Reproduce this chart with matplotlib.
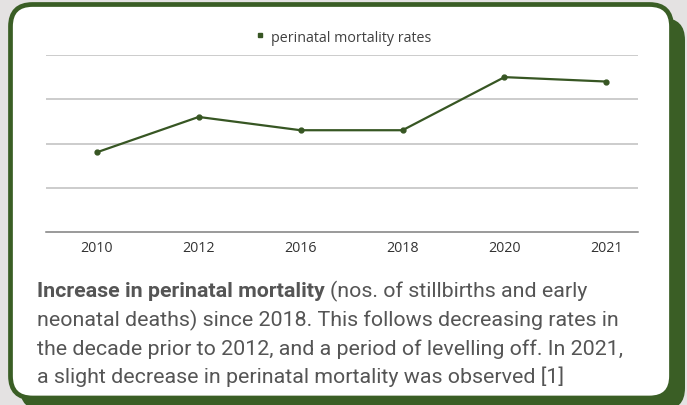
import matplotlib.pyplot as plt
from matplotlib.patches import FancyBboxPatch
from matplotlib.lines import Line2D

# donnees
years = ["2010", "2012", "2016", "2018", "2020", "2021"]
rates = [3.6, 5.2, 4.6, 4.6, 7.0, 6.8]
series_label = "perinatal mortality rates"

caption_bold = "Increase in perinatal mortality"
caption_lines = [
    "(nos. of stillbirths and early",
    "neonatal deaths) since 2018. This follows decreasing rates in",
    "the decade prior to 2012, and a period of levelling off. In 2021,",
    "a slight decrease in perinatal mortality was observed [1]",
]

GREEN = "#3a5e25"
LINE_GREEN = "#375623"
TEXT = "#555555"
W, H = 687, 406

fig = plt.figure(figsize=(W / 100, H / 100), dpi=100)
fig.patch.set_facecolor("#e4e2e2")

# fond : ombre verte + carte blanche
bg = fig.add_axes([0, 0, 1, 1])
bg.set_xlim(0, W)
bg.set_ylim(H, 0)
bg.axis("off")
shadow = FancyBboxPatch((20, 19), 665, 392, boxstyle="round,pad=0,rounding_size=22",
                        fc=GREEN, ec="none")
card = FancyBboxPatch((10.5, 5.5), 661, 393.5, boxstyle="round,pad=0,rounding_size=22",
                      fc="white", ec=GREEN, lw=3.4)
bg.add_patch(shadow)
bg.add_patch(card)

# graphique
x0, x1, ytop, ybot = 46, 638, 56, 233
ax = fig.add_axes([x0 / W, 1 - ybot / H, (x1 - x0) / W, (ybot - ytop) / H])
ax.set_facecolor("none")
xs = list(range(len(years)))
ax.plot(xs, rates, color=LINE_GREEN, lw=1.6, marker="o", markersize=3.5)
ax.set_xlim(-0.4975, 5.31)
ax.set_ylim(0, 8)
ax.set_yticks([2, 4, 6, 8])
ax.set_yticklabels([])
ax.tick_params(axis="y", length=0)
ax.grid(axis="y", color="#bfbfbf", lw=1.1)
ax.set_axisbelow(True)
ax.set_xticks(xs)
ax.set_xticklabels(years, fontfamily="Open Sans", fontsize=10.3, color="#333333")
ax.tick_params(axis="x", length=0, pad=6)
for s in ["top", "left", "right"]:
    ax.spines[s].set_visible(False)
ax.spines["bottom"].set_color("#7f7f7f")
ax.spines["bottom"].set_linewidth(1.1)

handle = Line2D([], [], marker="s", ls="none", color=LINE_GREEN, markersize=3.5)
fig.legend(handles=[handle], labels=[series_label], loc="center",
           bbox_to_anchor=(342 / W, 1 - 38 / H), frameon=False,
           handletextpad=0.25, handlelength=1.0,
           prop={"family": "Open Sans", "size": 10.3}, labelcolor="#404040")

# legende du graphique (texte)
fs = 15.4
baselines = [297, 326, 355, 383]
fig.text(37 / W, 1 - baselines[0] / H, caption_bold, fontfamily="Roboto",
         fontweight="bold", fontsize=fs, color=TEXT, va="baseline")
fig.text(330 / W, 1 - baselines[0] / H, caption_lines[0], fontfamily="Roboto",
         fontsize=fs, color=TEXT, va="baseline")
for line, yb in zip(caption_lines[1:], baselines[1:]):
    fig.text(37 / W, 1 - yb / H, line, fontfamily="Roboto", fontsize=fs,
             color=TEXT, va="baseline")

fig.savefig("out.png", dpi=100, facecolor=fig.get_facecolor())
